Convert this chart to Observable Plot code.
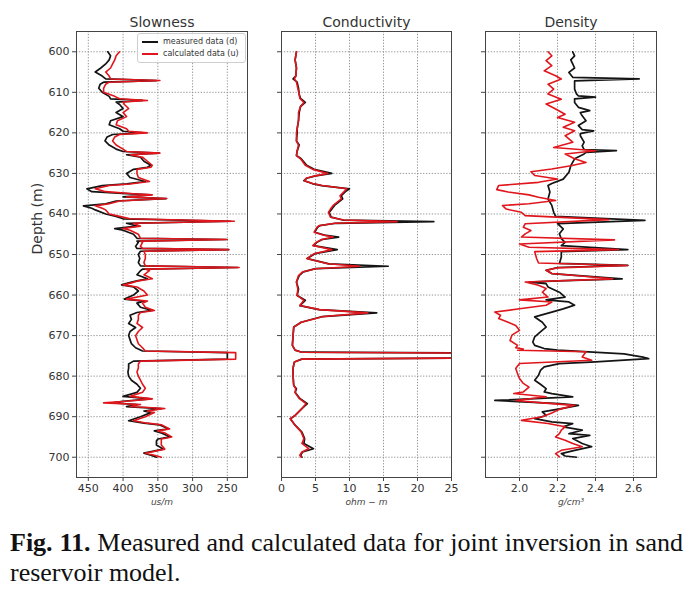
<!DOCTYPE html>
<html><head><meta charset="utf-8">
<script src="https://cdn.jsdelivr.net/npm/d3@7"></script>
<script src="https://cdn.jsdelivr.net/npm/@observablehq/plot@0.6"></script>
<style>
body{margin:0;background:#fff;}
#wrap{position:relative;width:694px;height:595px;overflow:hidden;font-family:"DejaVu Sans",sans-serif;background:#fff;}
.panel{position:absolute;top:0;}
#legend{position:absolute;left:137px;top:33px;width:107px;height:28px;border:1px solid #cfcfcf;border-radius:3px;background:rgba(255,255,255,0.85);font-size:8px;color:#333;}
#legend .row{position:absolute;left:0;height:10px;width:107px;}
#legend .sw{position:absolute;left:4px;top:4px;width:16px;height:2px;}
#legend .lb{position:absolute;left:25px;top:0;line-height:10px;white-space:nowrap;}
#caption{position:absolute;left:10px;top:528px;width:673px;font-family:"Liberation Serif","Times New Roman",serif;font-size:26px;color:#111;line-height:30px;}
#caption .l1{text-align:justify;text-align-last:justify;white-space:nowrap;}
</style></head>
<body><div id="wrap"></div>
<script>
// ---- data ----
const depthTicks = [600, 610, 620, 630, 640, 650, 660, 670, 680, 690, 700];

const slownessTicks = [450, 400, 350, 300, 250];
const slownessDepth = [600,601,602,603,604,605,606,606.7,607.1,607.5,
 608,609,610,611,611.6,612,612.4,613,614,615,
 616,617,618,619,619.6,620,620.4,621,622,623,
 624,624.6,625,625.4,626,627,628,628.5,629,630,
 631,632,632.6,633,633.8,634.5,635,635.3,635.8,636.2,
 636.8,637.5,638,638.6,639,640,640.6,641.2,641.8,642.3,
 643,643.6,644,645,646,646.3,646.7,647,648,648.5,
 648.8,649.2,650,651,652,652.8,653.2,653.6,654,655,
 656,656.5,657,657.5,658,659,660,661,661.5,662,
 663,663.8,664.3,665,666,667,668,669,670,671,
 672,673,673.8,674.2,675.8,676.3,677,678,679,680,
 681,682,683,684,685,685.6,686.2,686.6,687,687.5,
 688,688.6,689,690,691,691.6,692,693,693.5,694,
 695,695.5,696,697,698,699,699.5,700];
const slownessMeasured = [422,418,420,425,432,440,430,425,352,428,
 433,435,430,420,418,372,410,405,400,410,
 400,418,420,405,400,370,415,423,426,420,
 410,400,348,395,375,370,360,365,385,395,
 390,368,395,430,452,445,395,360,400,338,
 410,425,457,445,440,425,410,400,245,395,
 380,412,400,385,380,252,380,378,382,380,
 248,375,378,376,378,375,235,372,375,380,
 365,380,392,402,385,378,385,398,370,380,
 375,358,380,390,388,392,382,390,392,390,
 388,382,372,250,250,385,392,392,393,392,
 388,380,375,380,400,360,400,415,380,395,
 345,370,360,375,392,370,348,335,355,345,
 332,350,352,352,342,370,360,352];
const slownessCalculated = [405,410,412,415,418,425,420,418,347,420,
 425,428,428,412,405,365,400,398,392,400,
 395,408,410,395,392,365,405,412,415,410,
 400,395,347,390,372,365,358,360,380,380,
 378,362,390,420,440,425,385,358,395,337,
 405,420,440,430,425,420,405,390,240,385,
 375,400,390,378,375,250,375,372,375,372,
 248,370,368,368,370,368,233,368,362,370,
 358,378,388,400,380,370,365,395,365,372,
 368,355,375,378,378,380,372,378,382,380,
 378,372,368,238,238,375,378,378,380,378,
 375,372,368,372,390,358,395,428,375,390,
 340,365,355,368,385,365,345,333,350,340,
 330,345,345,345,340,368,355,345];

const conductivityTicks = [0, 5, 10, 15, 20, 25];
const conductivityDepth = [600,602,604,606,606.7,607.5,609,610.5,611.5,612.5,
 613.5,615,617,619,620,622,623,624.5,625.6,626.4,
 628,629,630,630.6,631.2,631.8,632.5,633,633.8,634.5,
 635.5,636.3,637.9,638.8,639.6,640.8,641.5,641.9,642.3,642.9,
 643.3,644.5,645.2,645.7,646.3,647,647.8,648.8,649.8,651,
 652.3,652.9,653.5,654.3,655.2,656.8,658.5,660.1,661.3,662.6,
 663.6,664.4,665.3,666.7,667.9,670,672.4,673.6,674.1,674.4,
 675.4,675.8,676.5,678,680,682.3,683.1,684,685.5,686.8,
 688,689.7,690.5,692.1,693.8,695.4,696.6,697.9,698.7,699.5,
 700];
const conductivityMeasured = [2.2,2.0,2.2,2.1,1.7,2.3,2.5,2.6,2.8,3.5,
 2.8,2.6,2.5,2.3,2.3,2.2,2.6,2.3,2.2,2.9,
 3.7,4.8,7.4,5.0,3.7,3.3,4.5,5.9,10.0,9.4,
 8.8,9.0,7.8,7.4,7.0,7.3,9.0,22.4,8.0,5.6,
 5.3,4.9,6.3,8.4,6.0,5.2,4.7,8.2,4.9,3.8,
 7.0,15.7,5.0,3.2,2.6,2.2,2.5,2.3,3.5,2.7,
 5.5,14.0,6.0,2.9,1.8,1.7,1.6,2.0,3.0,40,
 40,3.0,1.9,1.7,1.7,1.8,2.2,2.0,2.7,3.8,
 3.0,2.0,1.3,2.0,3.0,3.4,3.3,4.7,3.1,2.8,
 3.0];
const conductivityCalculated = [2.2,2.0,2.2,2.1,1.9,2.2,2.4,2.6,2.7,3.3,
 2.8,2.5,2.5,2.3,2.2,2.2,2.5,2.3,2.2,2.8,
 3.5,4.6,6.8,5.0,3.6,3.4,4.6,6.0,9.6,9.2,
 8.6,8.8,7.6,7.2,6.9,7.2,9.2,17.0,7.8,5.5,
 5.2,4.8,6.1,7.6,5.9,5.1,4.6,7.4,4.8,3.7,
 6.8,11.5,5.0,3.1,2.5,2.2,2.4,2.3,3.3,2.7,
 5.6,12.7,6.2,2.9,1.8,1.7,1.6,2.0,3.0,40,
 40,3.0,1.9,1.7,1.7,1.8,2.1,2.0,2.6,3.6,
 3.0,2.0,1.3,2.0,2.9,3.3,3.0,4.0,3.0,2.7,
 2.9];

const densityTicks = [2.0, 2.2, 2.4, 2.6];
const densityMeasuredDepth = [600,601,602,603,604,605.1,606.3,606.7,607.2,609.2,
 610.4,610.9,611.2,611.6,612.5,613.7,614.5,615,615.8,617,
 618.2,619.2,619.5,620.2,620.7,622.3,623.2,624.1,624.4,624.8,
 625.2,626.4,628.1,629.7,631.4,632.5,633,634.6,636.3,637.9,
 639.6,640.6,641.6,642.4,643.7,644.9,646.1,647,647.8,648.8,
 649.3,650.6,652.2,652.7,653.2,653.9,654.7,655.5,656,656.5,
 656.8,657.2,658,659.3,660.5,661.2,661.7,662.5,663.4,664.2,
 665.4,666.7,667.9,669.1,670.3,671.6,672.4,673.2,673.6,674.5,
 675.3,675.7,676.5,676.9,677.7,678.6,679.8,681,682,683.1,
 683.9,684.3,685.1,686,686.8,687.2,688,688.8,689.7,690.5,
 691.3,691.7,692.5,693.3,694.2,694.6,695.4,696.6,697.4,698.3,
 699.1,699.7,700];
const densityMeasured = [2.28,2.29,2.27,2.28,2.29,2.26,2.28,2.63,2.29,2.29,
 2.30,2.31,2.40,2.29,2.29,2.31,2.37,2.32,2.33,2.35,
 2.31,2.33,2.39,2.32,2.32,2.34,2.33,2.34,2.51,2.35,
 2.34,2.29,2.27,2.26,2.23,2.17,2.15,2.16,2.15,2.17,
 2.18,2.19,2.66,2.20,2.23,2.21,2.22,2.24,2.22,2.57,
 2.22,2.22,2.21,2.57,2.20,2.14,2.17,2.40,2.54,2.20,
 2.05,2.14,2.15,2.21,2.24,2.14,2.26,2.29,2.23,2.17,
 2.08,2.12,2.14,2.11,2.08,2.07,2.08,2.13,2.20,2.55,
 2.65,2.68,2.40,2.21,2.13,2.11,2.10,2.08,2.11,2.14,
 2.13,2.17,2.28,1.87,2.21,2.31,2.22,2.12,2.14,2.08,
 2.17,2.28,2.23,2.33,2.26,2.37,2.28,2.33,2.38,2.29,
 2.22,2.24,2.30];
const densityCalculatedDepth = [600,601,602.2,603.4,604.7,605.9,606.7,608,609.2,610.4,
 611.7,612.9,614.1,615.4,616.2,617.4,618.6,619.5,620.7,622.3,
 623.6,624.4,625.2,626.4,627.3,628.1,628.9,629.6,630.5,631.4,
 632.2,633,634,634.6,635.3,635.9,636.7,637.5,637.9,638.8,
 639.6,640.4,641.4,642.4,643.3,644.1,644.9,645.7,646.4,647.4,
 648.2,648.8,649.3,651,652.1,652.7,653.3,653.9,654.7,656,
 656.8,657.6,658.4,659.3,660.5,661.2,661.7,662.5,663.4,664.2,
 665,665.8,666.7,667.5,668.7,669.9,671.2,672.4,673,673.3,
 673.6,674,675.3,676.1,676.9,678.1,679.4,680.6,681.8,682.7,
 683.9,684.3,685.1,686,686.6,687.2,688.2,689.1,690,690.9,
 691.7,692.5,693.3,694.2,695,695.8,696.6,697.4,698.3,699.1,
 699.9];
const densityCalculated = [2.15,2.17,2.14,2.17,2.13,2.19,2.22,2.15,2.18,2.15,
 2.22,2.14,2.19,2.24,2.20,2.29,2.23,2.29,2.24,2.28,
 2.18,2.40,2.24,2.29,2.35,2.27,2.17,2.06,2.08,2.20,
 2.10,1.89,1.88,1.94,2.05,2.10,2.19,2.05,1.91,1.93,
 2.01,2.03,2.47,2.03,2.02,2.06,2.03,2.01,2.50,2.00,
 2.05,2.52,2.08,2.09,2.10,2.57,2.20,2.14,2.17,2.49,
 2.03,2.10,2.14,2.12,2.15,2.00,2.17,2.14,2.00,1.87,
 1.90,1.89,1.94,1.98,2.00,1.96,1.95,1.99,1.98,2.02,
 1.99,2.35,2.33,2.38,2.00,1.98,1.99,2.00,2.02,2.05,
 2.02,1.97,2.14,1.98,2.12,2.29,2.21,2.17,2.12,2.01,
 2.15,2.24,2.22,2.21,2.19,2.24,2.28,2.33,2.22,2.19,
 2.21];

const seriesLabels = ["measured data (d)", "calculated data (u)"];
const seriesColors = ["#141414", "#e0161c"];

// ---- drawing ----
const wrap = document.getElementById("wrap");

function panel(o) {
  const meas = o.dMeas.map((d, i) => ({depth: d, v: o.vMeas[i]}));
  const calc = o.dCalc.map((d, i) => ({depth: d, v: o.vCalc[i]}));
  const marks = [
    Plot.gridX(o.xTicks, {stroke: "#8a8a8a", strokeOpacity: 0.9, strokeDasharray: "1.3,1.6"}),
    Plot.gridY(depthTicks, {stroke: "#8a8a8a", strokeOpacity: 0.9, strokeDasharray: "1.3,1.6"}),
    Plot.line(meas, {x: "v", y: "depth", stroke: seriesColors[0], strokeWidth: 1.7, clip: true}),
    Plot.line(calc, {x: "v", y: "depth", stroke: seriesColors[1], strokeWidth: 1.6, clip: true}),
    Plot.frame({stroke: "#444", strokeWidth: 1}),
    Plot.axisX(o.xTicks, {tickSize: 4, tickPadding: 3, tickFormat: o.fmt, label: null, stroke: "#444", fill: "#333"}),
    Plot.axisY(depthTicks, {tickSize: 4, tickPadding: 3, tickFormat: o.showY ? (d => String(d)) : (() => ""), label: null, stroke: "#444", fill: "#333"}),
    Plot.text([o.title], {text: d => d, frameAnchor: "top", lineAnchor: "bottom", dy: -5, fontSize: 14, fill: "#333"}),
    Plot.text([o.unit], {text: d => d, frameAnchor: "bottom", lineAnchor: "top", dy: 21, fontSize: 9, fontStyle: "italic", fill: "#444"})
  ];
  if (o.showY) {
    marks.push(Plot.text(["Depth (m)"], {text: d => d, frameAnchor: "left", rotate: -90, dx: -39, fontSize: 14, fill: "#333"}));
  }
  const svg = Plot.plot({
    width: o.width, height: 515,
    marginLeft: o.mL, marginRight: o.mR, marginTop: 31, marginBottom: 38,
    style: {fontFamily: "'DejaVu Sans', sans-serif", fontSize: "11px", color: "#333", background: "transparent", overflow: "visible"},
    x: {domain: o.xDomain},
    y: {domain: [595, 705], reverse: true},
    marks
  });
  svg.classList.add("panel");
  svg.style.left = o.left + "px";
  svg.style.position = "absolute";
  svg.style.top = "0px";
  wrap.appendChild(svg);
}

panel({title: "Slowness", unit: "us/m", xDomain: [467, 221], xTicks: slownessTicks, fmt: d => String(d),
  dMeas: slownessDepth, vMeas: slownessMeasured, dCalc: slownessDepth, vCalc: slownessCalculated,
  left: 0, width: 250, mL: 76, mR: 3, showY: true});
panel({title: "Conductivity", unit: "ohm \u2212 m", xDomain: [0, 25], xTicks: conductivityTicks, fmt: d => String(d),
  dMeas: conductivityDepth, vMeas: conductivityMeasured, dCalc: conductivityDepth, vCalc: conductivityCalculated,
  left: 260, width: 196, mL: 21, mR: 5, showY: false});
panel({title: "Density", unit: "g/cm\u00b3", xDomain: [1.821, 2.721], xTicks: densityTicks, fmt: d3.format(".1f"),
  dMeas: densityMeasuredDepth, vMeas: densityMeasured, dCalc: densityCalculatedDepth, vCalc: densityCalculated,
  left: 460, width: 201, mL: 25, mR: 5, showY: false});

// legend
const lg = document.createElement("div");
lg.id = "legend";
seriesLabels.forEach((lab, i) => {
  const row = document.createElement("div");
  row.className = "row";
  row.style.top = (3 + i * 12) + "px";
  const sw = document.createElement("div");
  sw.className = "sw";
  sw.style.background = seriesColors[i];
  const tx = document.createElement("div");
  tx.className = "lb";
  tx.textContent = lab;
  row.appendChild(sw); row.appendChild(tx);
  lg.appendChild(row);
});
wrap.appendChild(lg);

// caption
const cap = document.createElement("div");
cap.id = "caption";
cap.innerHTML = '<div class="l1"><b>Fig. 11.</b> Measured and calculated data for joint inversion in sand</div><div>reservoir model.</div>';
wrap.appendChild(cap);
</script>
</body></html>
